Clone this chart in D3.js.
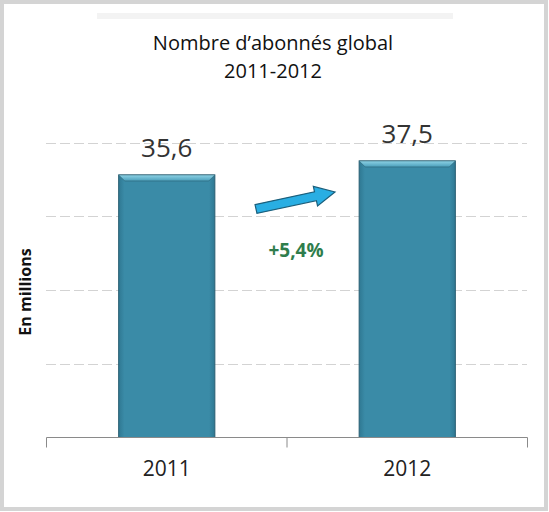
<!DOCTYPE html>
<html><head><meta charset="utf-8">
<script src="https://cdn.jsdelivr.net/npm/d3@7"></script>
<style>body{margin:0;background:#fff}svg{display:block}</style>
</head><body>
<script>
const categories = ["2011", "2012"];
const values = [35.6, 37.5];
const valueLabels = ["35,6", "37,5"];
const gridTicks = [10, 20, 30, 40];
const growthLabel = "+5,4%";
const titleLines = ["Nombre d\u2019abonnés global", "2011-2012"];
const yAxisTitle = "En millions";

const W = 549, H = 512;
const font = "'Open Sans', Lato, sans-serif";
const svg = d3.select("body").append("svg").attr("width", W).attr("height", H);

// outer frame
svg.append("rect").attr("x", 2).attr("y", 2).attr("width", W - 5).attr("height", H - 5)
  .attr("fill", "#fff").attr("stroke", "#d4d4d4").attr("stroke-width", 4);
// faint band at top (remnant of cropped heading)
svg.append("rect").attr("x", 97).attr("y", 13).attr("width", 356).attr("height", 6).attr("fill", "#f3f3f3");

// title
svg.append("text").attr("x", 273).attr("y", 50).attr("text-anchor", "middle")
  .attr("font-family", font).attr("font-size", 20).attr("fill", "#111").text(titleLines[0]);
svg.append("text").attr("x", 273).attr("y", 78).attr("text-anchor", "middle")
  .attr("font-family", font).attr("font-size", 20).attr("fill", "#111").text(titleLines[1]);

const x = d3.scaleBand().domain(categories).range([46.5, 527.5]).paddingInner(0.6).paddingOuter(0.3);
const xTicks = d3.scaleBand().domain(categories).range([46.5, 527.5]);
const y = d3.scaleLinear().domain([0, 40]).range([437.5, 142.5]);

const defs = svg.append("defs");
// gridlines
svg.append("g").selectAll("line").data(gridTicks).join("line")
  .attr("x1", 46).attr("x2", 527).attr("y1", d => Math.round(y(d)) + 0.5).attr("y2", d => Math.round(y(d)) + 0.5)
  .attr("stroke", "#d3d3d3").attr("stroke-width", 1).attr("stroke-dasharray", "10,4");

// bar gradient
const g1 = defs.append("linearGradient").attr("id", "barg").attr("x1", 0).attr("x2", 1).attr("y1", 0).attr("y2", 0);
g1.append("stop").attr("offset", "0").attr("stop-color", "#2f7892");
g1.append("stop").attr("offset", "0.06").attr("stop-color", "#3a8ba7");
g1.append("stop").attr("offset", "0.94").attr("stop-color", "#3a8ba7");
g1.append("stop").attr("offset", "1").attr("stop-color", "#2f7892");
const g2 = defs.append("linearGradient").attr("id", "bevel").attr("x1", 0).attr("x2", 0).attr("y1", 0).attr("y2", 1);
g2.append("stop").attr("offset", "0").attr("stop-color", "#8fd3e6");
g2.append("stop").attr("offset", "1").attr("stop-color", "#4a9fbb");

const bars = svg.append("g").selectAll("g").data(categories).join("g");
bars.append("rect")
  .attr("x", d => x(d)).attr("width", x.bandwidth())
  .attr("y", (d, i) => y(values[i])).attr("height", (d, i) => y(0) - y(values[i]))
  .attr("fill", "url(#barg)").attr("stroke", "#2a5f72").attr("stroke-width", 1);
bars.append("path")
  .attr("d", (d, i) => {
    const x0 = x(d), x1 = x0 + x.bandwidth(), t = y(values[i]), b = 6;
    return `M${x0},${t}L${x1},${t}L${x1 - b},${t + b}L${x0 + b},${t + b}Z`;
  })
  .attr("fill", "url(#bevel)").attr("stroke", "#2a5f72").attr("stroke-width", 0.6);

// value labels
svg.append("g").selectAll("text").data(categories).join("text")
  .attr("x", d => x(d) + x.bandwidth() / 2).attr("y", (d, i) => y(values[i]) - 18)
  .attr("text-anchor", "middle").attr("font-family", font).attr("font-size", 26).attr("fill", "#333")
  .text((d, i) => valueLabels[i]);

// x axis
const axis = svg.append("g").attr("transform", `translate(0,${y(0)})`)
  .call(d3.axisBottom(x).tickSize(0).tickPadding(24));
axis.select(".domain").remove();
axis.selectAll("text").attr("font-family", font).attr("font-size", 21).attr("fill", "#222");
svg.append("line").attr("x1", 46.5).attr("x2", 527.5).attr("y1", y(0)).attr("y2", y(0)).attr("stroke", "#8a8a8a");
const edges = [xTicks.range()[0]].concat(categories.map(c => xTicks(c) + xTicks.bandwidth()));
svg.append("g").selectAll("line").data(edges).join("line")
  .attr("x1", d => d).attr("x2", d => d).attr("y1", y(0)).attr("y2", y(0) + 10)
  .attr("stroke", "#8a8a8a");

// y axis title
svg.append("text").attr("transform", "translate(31,292) rotate(-90)").attr("text-anchor", "middle")
  .attr("font-family", font).attr("font-size", 16).attr("font-weight", "bold").attr("fill", "#111")
  .text(yAxisTitle);

// arrow between bars
const ax0 = 256, ay0 = 209, ax1 = 335, ay1 = 192;
const ang = Math.atan2(ay1 - ay0, ax1 - ax0);
const len = Math.hypot(ax1 - ax0, ay1 - ay0);
const sh = 4.5, hw = 10, hl = 20;
const pts = [[0, -sh], [len - hl, -sh], [len - hl, -hw], [len, 0], [len - hl, hw], [len - hl, sh], [0, sh]];
svg.append("path")
  .attr("d", "M" + pts.map(p => p.join(",")).join("L") + "Z")
  .attr("transform", `translate(${ax0},${ay0}) rotate(${ang * 180 / Math.PI})`)
  .attr("fill", "#29aee3").attr("stroke", "#1b5f7c").attr("stroke-width", 1.2);

svg.append("text").attr("x", 296).attr("y", 257).attr("text-anchor", "middle")
  .attr("font-family", font).attr("font-size", 19).attr("font-weight", "bold").attr("fill", "#2f7d4c")
  .text(growthLabel);
</script>
</body></html>
